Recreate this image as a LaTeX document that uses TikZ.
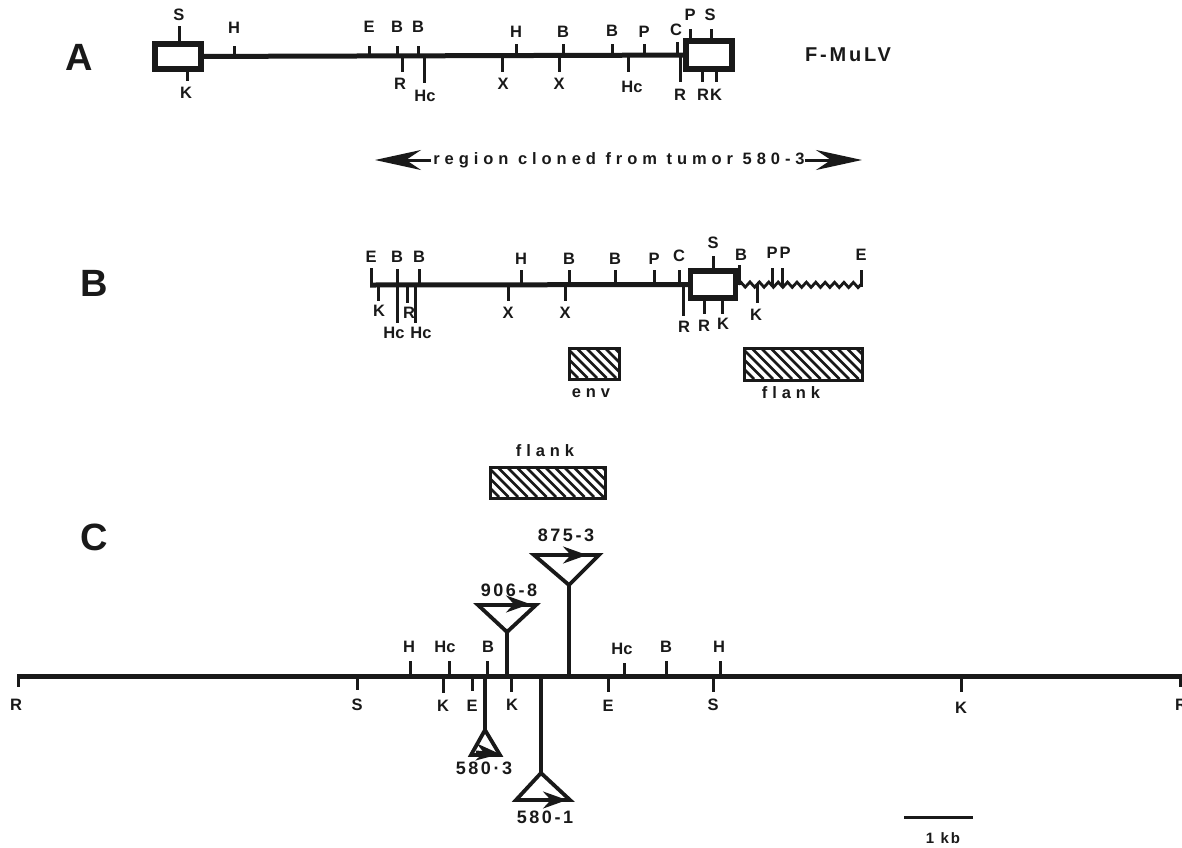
\documentclass[tikz,border=0pt]{standalone}
\usepackage{fontspec}
\setmainfont{Liberation Sans}[BoldFont={Liberation Sans Bold}]
\newfontfamily\trackfont[LetterSpace=30]{Liberation Sans Bold}
\newfontfamily\widefont[LetterSpace=14]{Liberation Sans Bold}
\usetikzlibrary{arrows.meta,decorations.pathmorphing}
\tikzset{
  lab/.style={font=\bfseries\fontsize{16.5}{16.5}\selectfont,inner sep=0pt,text=black!90},
  num/.style={font=\widefont\fontsize{18}{18}\selectfont,inner sep=0pt,text=black!90},
  tag/.style={font=\trackfont\fontsize{16.5}{16.5}\selectfont,inner sep=0pt,text=black!90},
  panel/.style={font=\bfseries\fontsize{38}{38}\selectfont,inner sep=0pt,text=black!90},
  tickline/.style={line width=3pt,black!90},
  stem/.style={line width=3.6pt,black!90},
  dna/.style={line width=5pt,black!90},
  ltr/.style={line width=5.4pt,draw=black!90,fill=white},
  hatchbox/.style={line width=3pt,draw=black!90},
  tri/.style={line width=3.8pt,draw=black!90,fill=white,line join=miter},
  insarrow/.style={line width=3pt,black!90,-{Stealth[length=24pt,width=17pt]}},
  bigarrow/.style={line width=3pt,black!90,-{Stealth[length=46pt,width=20pt]}}
}
% tick with label: name, x, line y, tick end y, label x, label y, text
\newcommand{\rsite}[7]{%
  \coordinate (#1a) at (#2,#3);\coordinate (#1b) at (#2,#4);
  \draw[tickline] (#1a) -- (#1b);
  \node[lab] (#1) at (#5,#6) {#7};}
% hatched box: name, x1, y1, x2, y2
\newcommand{\hatched}[5]{%
  \begin{scope}
    \clip (#2,#3) rectangle (#4,#5);
    \pgfmathsetmacro{\hh}{#5-#3}
    \foreach \xx in {-40,-30.5,...,140}{
      \draw[line width=2.8pt,black!90] ({#2+\xx},#3) -- ({#2+\xx+\hh},#5);}
  \end{scope}
  \node[hatchbox,minimum width={#4-#2},minimum height={#5-#3},inner sep=0pt,anchor=north west] (#1) at (#2,#3) {};}
\begin{document}
\begin{tikzpicture}[x=1pt,y=-1pt]
\useasboundingbox (0,0) rectangle (1182,847);
% Panel letters
\node[panel] (pA) at (79,57) {A};
\node[panel] (pB) at (94,283) {B};
\node[panel] (pC) at (94,537) {C};
% ---------- Panel A
\node[font=\widefont\fontsize{20}{20}\selectfont,inner sep=0pt,text=black!90] (fm) at (848,55) {F-MuLV};
\node[ltr,minimum width=46pt,minimum height=25pt,inner sep=0pt] (aL) at (178,56.5) {};
\node[ltr,minimum width=46pt,minimum height=28pt,inner sep=0pt] (aR) at (709,55) {};
\draw[dna] (aL) -- (aR);
\rsite{a1}{179}{43}{26}{179}{15}{S}
\rsite{a2}{187}{70}{81}{186}{93}{K}
\rsite{a3}{234}{56}{46}{234}{28}{H}
\rsite{a4}{369}{56}{46}{369}{27}{E}
\rsite{a5}{397}{56}{46}{397}{27}{B}
\rsite{a6}{418}{56}{46}{418}{27}{B}
\rsite{a7}{402}{56}{72}{400}{84}{R}
\rsite{a8}{424}{56}{83}{425}{96}{Hc}
\rsite{a9}{516}{56}{44}{516}{32}{H}
\rsite{a10}{502}{56}{72}{503}{84}{X}
\rsite{a11}{563}{56}{44}{563}{32}{B}
\rsite{a12}{559}{56}{72}{559}{84}{X}
\rsite{a13}{612}{56}{44}{612}{31}{B}
\rsite{a14}{628}{56}{72}{632}{87}{Hc}
\rsite{a15}{644}{56}{44}{644}{32}{P}
\rsite{a16}{677}{56}{42}{676}{30}{C}
\rsite{a17}{680}{56}{82}{680}{95}{R}
\rsite{a18}{690}{40}{29}{690}{15}{P}
\rsite{a19}{711}{40}{29}{710}{15}{S}
\rsite{a20}{702}{70}{82}{703}{95}{R}
\rsite{a21}{716}{70}{82}{716}{95}{K}
% Region arrow
\node[tag] (reg) at (619,160) {region cloned from tumor 580-3};
\coordinate (regL) at (375,160);
\coordinate (regR) at (862,160);
\draw[bigarrow] (reg.west) ++(-2,0) -- (regL);
\draw[bigarrow] (reg.east) -- (regR);
% ---------- Panel B
\node[ltr,minimum width=45pt,minimum height=27pt,inner sep=0pt] (bBox) at (713,284.5) {};
\coordinate (bS) at (370,285);
\coordinate (bE) at (862,285);
\draw[dna] (bS) -- (bBox);
\draw[line width=2.8pt,black!90,decorate,decoration={zigzag,amplitude=2.6pt,segment length=9.4pt}] (bBox.east) -- (bE);
\rsite{b1}{371}{287}{268}{371}{257}{E}
\rsite{b2}{397}{285}{269}{397}{257}{B}
\rsite{b3}{419}{285}{269}{419}{257}{B}
\rsite{b4}{521}{285}{270}{521}{259}{H}
\rsite{b5}{569}{285}{270}{569}{259}{B}
\rsite{b6}{615}{285}{270}{615}{259}{B}
\rsite{b7}{654}{285}{270}{654}{259}{P}
\rsite{b8}{679}{285}{270}{679}{256}{C}
\rsite{b9}{378}{285}{301}{379}{311}{K}
\rsite{b10}{397}{285}{323}{394}{333}{Hc}
\rsite{b11}{407}{285}{303}{409}{313}{R}
\rsite{b12}{415}{285}{323}{421}{333}{Hc}
\rsite{b13}{508}{285}{301}{508}{313}{X}
\rsite{b14}{565}{285}{301}{565}{313}{X}
\rsite{b15}{683}{285}{316}{684}{327}{R}
\rsite{b16}{713}{270}{256}{713}{243}{S}
\rsite{b17}{704}{299}{314}{704}{326}{R}
\rsite{b18}{722}{299}{314}{723}{324}{K}
\rsite{b19}{739}{285}{265}{741}{255}{B}
\rsite{b20}{772}{285}{268}{772}{253}{P}
\rsite{b21}{782}{285}{268}{785}{253}{P}
\rsite{b22}{861}{287}{270}{861}{255}{E}
\rsite{b23}{757}{285}{303}{756}{315}{K}
% Probes
\hatched{env}{568}{347}{618}{378}
\node[tag] (envl) at (591,393) {env};
\hatched{fl1}{743}{347}{861}{379}
\node[tag] (fl1l) at (791,393) {flank};
\hatched{fl2}{489}{466}{604}{497}
\node[tag] (fl2l) at (545,451) {flank};
% ---------- Panel C
\coordinate (cL) at (17,676);
\coordinate (cR) at (1184,676);
\draw[dna] (cL) -- (cR);
\rsite{c1}{18}{676}{687}{16}{705}{R}
\rsite{c2}{1180}{676}{687}{1181}{705}{R}
\rsite{c3}{357}{676}{690}{357}{705}{S}
\rsite{c4}{443}{676}{693}{443}{706}{K}
\rsite{c5}{472}{676}{691}{472}{706}{E}
\rsite{c6}{511}{676}{692}{512}{705}{K}
\rsite{c7}{608}{676}{692}{608}{706}{E}
\rsite{c8}{713}{676}{692}{713}{705}{S}
\rsite{c9}{961}{676}{692}{961}{708}{K}
\rsite{c10}{410}{676}{661}{409}{647}{H}
\rsite{c11}{449}{676}{661}{445}{647}{Hc}
\rsite{c12}{487}{676}{661}{488}{647}{B}
\rsite{c13}{624}{676}{663}{622}{649}{Hc}
\rsite{c14}{666}{676}{661}{666}{647}{B}
\rsite{c15}{720}{676}{661}{719}{647}{H}
% Insertions: up
\coordinate (t1a) at (507,632);\coordinate (t1b) at (478,605);\coordinate (t1c) at (536,605);\coordinate (t1base) at (507,676);
\draw[stem] (t1base) -- (t1a);
\draw[tri] (t1a) -- (t1b) -- (t1c) -- cycle;
\draw[insarrow] (t1b) ++(18,-1) -- ++(34,0);
\node[num] (t1l) at (509,590) {906-8};
\coordinate (t2a) at (569,585);\coordinate (t2b) at (534,555);\coordinate (t2c) at (599,555);\coordinate (t2base) at (569,676);
\draw[stem] (t2base) -- (t2a);
\draw[tri] (t2a) -- (t2b) -- (t2c) -- cycle;
\draw[insarrow] (t2b) ++(3,0) -- ++(50,0);
\node[num] (t2l) at (566,535) {875-3};
% Insertions: down
\coordinate (t3a) at (485,730);\coordinate (t3b) at (471,755);\coordinate (t3c) at (500,755);\coordinate (t3base) at (485,676);
\draw[stem] (t3base) -- (t3a);
\draw[tri] (t3a) -- (t3b) -- (t3c) -- cycle;
\draw[insarrow] (t3b) ++(5,-3) -- ++(24,2);
\node[num] (t3l) at (484,768) {580·3};
\coordinate (t4a) at (541,773);\coordinate (t4b) at (516,800);\coordinate (t4c) at (570,800);\coordinate (t4base) at (541,676);
\draw[stem] (t4base) -- (t4a);
\draw[tri] (t4a) -- (t4b) -- (t4c) -- cycle;
\draw[insarrow] (t4b) ++(9,0) -- ++(42,0);
\node[num] (t4l) at (545,817) {580-1};
% Scale bar
\coordinate (sb1) at (904,817);
\coordinate (sb2) at (973,817);
\draw[tickline] (sb1) -- (sb2);
\node[font=\widefont\fontsize{15}{15}\selectfont,inner sep=0pt,text=black!90] (sbl) at (943,838) {1 kb};
\end{tikzpicture}
\end{document}
